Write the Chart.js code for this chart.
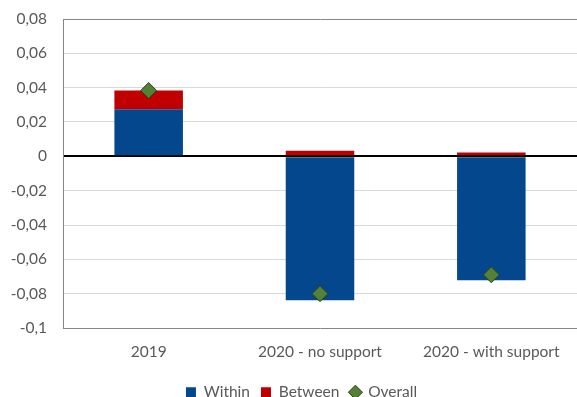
<!DOCTYPE html>
<html>
<head>
<meta charset="utf-8">
<script src="https://cdn.jsdelivr.net/npm/chart.js@4"></script>
<style>
  html, body { margin: 0; padding: 0; background: #fff; }
  #wrap { width: 577px; height: 397px; }
</style>
</head>
<body>
<div id="wrap"><canvas id="chart" width="577" height="397"></canvas></div>
<script>
// 各カテゴリの値
const categories = ["2019", "2020 - no support", "2020 - with support"];
const withinValues = [0.0274, -0.0839, -0.0722];
const betweenValues = [0.0110, 0.0033, 0.0022];
const overallValues = [0.0383, -0.0800, -0.0690];
const yTicks = [0.08, 0.06, 0.04, 0.02, 0, -0.02, -0.04, -0.06, -0.08, -0.1];

const fontFamily = "Lato, 'Open Sans', sans-serif";
const fontSize = 15.5;
const textColor = '#595959';

// 目盛ラベル（カンマ小数点）
function fmt(v) {
    if (Math.abs(v) < 1e-9) return '0';
    return String(Math.round(v * 100) / 100).replace('.', ',');
}

// 凡例を少し右へずらす
const legendShift = {
    id: 'legendShift',
    afterLayout(chart) {
        chart.legend.left += 13;
        chart.legend.right += 13;
    }
};

const ctx = document.getElementById('chart').getContext('2d');
new Chart(ctx, {
    type: 'bar',
    data: {
        labels: categories,
        datasets: [
            {
                label: 'Within',
                data: withinValues,
                backgroundColor: '#05478D',
                stack: 'bars',
                barPercentage: 0.4,
                categoryPercentage: 1,
                pointStyle: 'rect',
                order: 2
            },
            {
                label: 'Between',
                data: betweenValues,
                backgroundColor: '#C00000',
                stack: 'bars',
                barPercentage: 0.4,
                categoryPercentage: 1,
                pointStyle: 'rect',
                order: 2
            },
            {
                type: 'line',
                label: 'Overall',
                data: overallValues,
                stack: 'overall',
                showLine: false,
                pointStyle: 'rectRot',
                pointRadius: 8,
                pointBackgroundColor: '#548235',
                pointBorderColor: '#2E3B24',
                pointBorderWidth: 1,
                backgroundColor: '#548235',
                borderColor: '#2E3B24',
                order: 1
            }
        ]
    },
    plugins: [legendShift],
    options: {
        responsive: false,
        animation: false,
        layout: { autoPadding: false, padding: { top: 19, right: 0, left: 0, bottom: -13 } },
        plugins: {
            tooltip: { enabled: false },
            legend: {
                position: 'bottom',
                labels: {
                    usePointStyle: true,
                    boxWidth: 10,
                    boxHeight: 10,
                    color: textColor,
                    font: { family: fontFamily, size: fontSize },
                    padding: 11,
                    sort: (a, b) => a.datasetIndex - b.datasetIndex
                }
            }
        },
        scales: {
            x: {
                stacked: true,
                grid: { display: false },
                border: { display: false },
                ticks: {
                    color: textColor,
                    font: { family: fontFamily, size: fontSize },
                    padding: 7
                },
                afterFit: s => { s.height = 45.5; }
            },
            y: {
                stacked: true,
                min: -0.1,
                max: 0.08,
                afterBuildTicks: s => { s.ticks = yTicks.map(v => ({ value: v })); },
                afterFit: s => {
                    s.width = 63;
                    s.paddingTop = 0;
                    s.paddingBottom = 0;
                },
                border: { display: true, color: '#868686', width: 1 },
                grid: {
                    color: c => {
                        const v = c.tick.value;
                        if (Math.abs(v) < 1e-9) return '#000000';
                        if (Math.abs(v - 0.08) < 1e-9 || Math.abs(v + 0.1) < 1e-9) return '#868686';
                        return '#D9D9D9';
                    },
                    lineWidth: c => Math.abs(c.tick.value) < 1e-9 ? 2 : 1,
                    drawTicks: false
                },
                ticks: {
                    color: textColor,
                    font: { family: fontFamily, size: fontSize },
                    padding: 16,
                    callback: v => fmt(v)
                }
            }
        }
    }
});
</script>
</body>
</html>
